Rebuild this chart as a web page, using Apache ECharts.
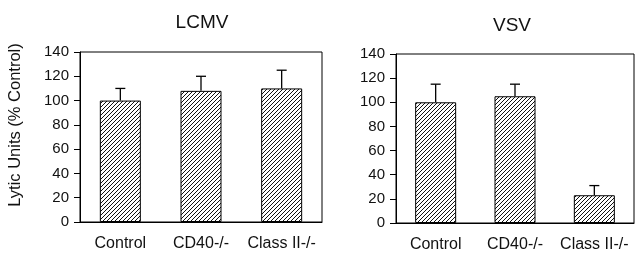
<!DOCTYPE html>
<html>
<head>
<meta charset="utf-8">
<script src="https://cdn.jsdelivr.net/npm/echarts@6/dist/echarts.min.js"></script>
<style>
  html, body { margin: 0; padding: 0; background: #fff; }
  #main { width: 637px; height: 255px; }
</style>
</head>
<body>
<div id="main"></div>
<script>
// data
const categories = ['Control', 'CD40-/-', 'Class II-/-']
const lcmvValues = [100, 108, 110]
const lcmvErrors = [10, 12, 15]
const vsvValues = [100, 105, 23]
const vsvErrors = [15, 10, 8]
const yTicks = [0, 20, 40, 60, 80, 100, 120, 140]

// diagonal hatch pattern
function hatch () {
  const c = document.createElement('canvas')
  c.width = 4
  c.height = 4
  const ctx = c.getContext('2d')
  ctx.fillStyle = '#fff'
  ctx.fillRect(0, 0, 4, 4)
  ctx.strokeStyle = '#111'
  ctx.lineWidth = 1
  ctx.beginPath()
  ctx.moveTo(-1, 5); ctx.lineTo(5, -1)
  ctx.moveTo(-1, 1); ctx.lineTo(1, -1)
  ctx.moveTo(3, 5); ctx.lineTo(5, 3)
  ctx.stroke()
  return c
}
const pattern = { image: hatch(), repeat: 'repeat' }

const font = 'Liberation Sans, Arial, Helvetica, sans-serif'

function xAxisFor (gridIndex) {
  return {
    type: 'category',
    gridIndex: gridIndex,
    data: categories,
    axisLine: { lineStyle: { color: '#000', width: 1 } },
    axisTick: { alignWithLabel: true, length: 7, lineStyle: { color: '#000' } },
    axisLabel: { interval: 0, hideOverlap: false, color: '#111', fontSize: 16, fontFamily: font, margin: 14 }
  }
}

function yAxisFor (gridIndex) {
  return {
    type: 'value',
    gridIndex: gridIndex,
    min: yTicks[0],
    max: yTicks[yTicks.length - 1],
    interval: yTicks[1] - yTicks[0],
    splitLine: { show: false },
    axisLine: { show: true, lineStyle: { color: '#000', width: 1 } },
    axisTick: { show: true, length: 6, lineStyle: { color: '#000' } },
    axisLabel: { color: '#111', fontSize: 15, fontFamily: font, margin: 11 }
  }
}

function barsFor (idx, values) {
  return {
    type: 'bar',
    xAxisIndex: idx,
    yAxisIndex: idx,
    data: values,
    barWidth: 41,
    itemStyle: { color: pattern, borderColor: '#000', borderWidth: 1 },
    z: 2
  }
}

function errorsFor (idx, values, errors) {
  return {
    type: 'custom',
    xAxisIndex: idx,
    yAxisIndex: idx,
    data: values.map((v, i) => [i, v, v + errors[i]]),
    renderItem: function (params, api) {
      const base = api.coord([api.value(0), api.value(1)])
      const top = api.coord([api.value(0), api.value(2)])
      const half = 5
      return {
        type: 'group',
        children: [
          { type: 'line', shape: { x1: base[0], y1: base[1], x2: top[0], y2: top[1] }, style: { stroke: '#000', lineWidth: 1.3 } },
          { type: 'line', shape: { x1: top[0] - half, y1: top[1], x2: top[0] + half, y2: top[1] }, style: { stroke: '#000', lineWidth: 1.3 } }
        ]
      }
    },
    z: 1
  }
}

const chart = echarts.init(document.getElementById('main'))
chart.setOption({
  animation: false,
  backgroundColor: '#fff',
  title: [
    { text: 'LCMV', left: 197, top: 8, textAlign: 'center', textStyle: { fontSize: 19, fontWeight: 'normal', color: '#111', fontFamily: font } },
    { text: 'VSV', left: 507, top: 11, textAlign: 'center', textStyle: { fontSize: 19, fontWeight: 'normal', color: '#111', fontFamily: font } }
  ],
  grid: [
    { left: 80, right: 315, top: 52, bottom: 33, show: true, borderColor: '#000', borderWidth: 1, backgroundColor: 'transparent' },
    { left: 396, right: 3, top: 54, bottom: 32, show: true, borderColor: '#000', borderWidth: 1, backgroundColor: 'transparent' }
  ],
  xAxis: [xAxisFor(0), xAxisFor(1)],
  yAxis: [yAxisFor(0), yAxisFor(1)],
  graphic: [
    {
      type: 'text',
      x: 15,
      y: 125,
      rotation: Math.PI / 2,
      style: { text: 'Lytic Units (% Control)', fontSize: 16.5, fontFamily: font, fill: '#111', textAlign: 'center', textVerticalAlign: 'middle' }
    }
  ],
  series: [
    errorsFor(0, lcmvValues, lcmvErrors),
    barsFor(0, lcmvValues),
    errorsFor(1, vsvValues, vsvErrors),
    barsFor(1, vsvValues)
  ]
})
</script>
</body>
</html>
